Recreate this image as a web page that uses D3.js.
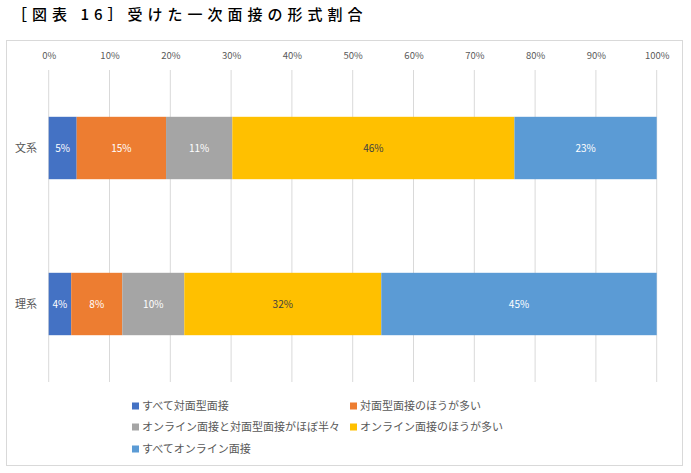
<!DOCTYPE html>
<html><head><meta charset="utf-8">
<script src="https://cdn.jsdelivr.net/npm/d3@7"></script>
<style>
html,body{margin:0;padding:0;background:#fff;}
svg text{font-family:"Noto Sans CJK JP","Noto Sans",sans-serif;}
</style></head>
<body><svg id="c" width="691" height="473"></svg>
<script>
const title = "［図表 16］受けた一次面接の形式割合";
const categories = ["文系", "理系"];
const seriesNames = ["すべて対面型面接", "対面型面接のほうが多い", "オンライン面接と対面型面接がほぼ半々", "オンライン面接のほうが多い", "すべてオンライン面接"];
const bunkeiValues = [4.6, 14.7, 10.9, 46.4, 23.4];
const rikeiValues = [3.7, 8.4, 10.2, 32.4, 45.3];
const tickValues = [0, 10, 20, 30, 40, 50, 60, 70, 80, 90, 100];
const colors = ["#4472C4", "#ED7D31", "#A5A5A5", "#FFC000", "#5B9BD5"];
const labelColors = ["#ffffff", "#ffffff", "#ffffff", "#404040", "#ffffff"];

const valuesByCat = {"文系": bunkeiValues, "理系": rikeiValues};
const svg = d3.select("#c");

// title
svg.append("text").attr("x", 12).attr("y", 20)
  .attr("font-size", 15).attr("font-weight", 500).attr("fill", "#000")
  .attr("letter-spacing", 5)
  .text(title);

// chart border
svg.append("rect").attr("x", 6.5).attr("y", 40.5).attr("width", 676).attr("height", 425)
  .attr("fill", "none").attr("stroke", "#d9d9d9").attr("stroke-width", 1);

const x = d3.scaleLinear().domain([0, 100]).range([48.7, 656.7]);
const y = d3.scaleBand().domain(categories).range([70, 382]).paddingInner(0.6).paddingOuter(0.3);

// gridlines
svg.append("g").selectAll("line").data(tickValues).join("line")
  .attr("x1", d => x(d)).attr("x2", d => x(d)).attr("y1", 70).attr("y2", 382)
  .attr("stroke", "#d9d9d9").attr("stroke-width", 1);

// top axis labels
const axis = d3.axisTop(x).tickValues(tickValues).tickFormat(d => d + "%").tickSize(0).tickPadding(0);
const ag = svg.append("g").attr("transform", "translate(0,59)").call(axis);
ag.select(".domain").remove();
ag.selectAll("text").attr("font-size", 9.5).attr("fill", "#595959")
  .attr("font-family", "'Noto Sans','Noto Sans CJK JP',sans-serif");

// category labels
svg.append("g").selectAll("text").data(categories).join("text")
  .attr("x", 37).attr("y", d => y(d) + y.bandwidth() / 2).attr("dy", "0.35em")
  .attr("text-anchor", "end").attr("font-size", 11).attr("fill", "#595959").text(d => d);

// stacked bars
const rows = categories.map(c => {
  let acc = 0;
  return valuesByCat[c].map((v, i) => { const s = acc; acc += v; return {cat: c, i, v, x0: s, x1: acc}; });
});
const segs = rows.flat();
svg.append("g").selectAll("rect").data(segs).join("rect")
  .attr("x", d => x(d.x0)).attr("width", d => x(d.x1) - x(d.x0))
  .attr("y", d => y(d.cat)).attr("height", y.bandwidth())
  .attr("fill", d => colors[d.i]);

svg.append("g").selectAll("text").data(segs).join("text")
  .attr("x", d => (x(d.x0) + x(d.x1)) / 2).attr("y", d => y(d.cat) + y.bandwidth() / 2)
  .attr("dy", "0.35em").attr("text-anchor", "middle").attr("font-size", 10)
  .attr("font-family", "'Noto Sans','Noto Sans CJK JP',sans-serif")
  .attr("fill", d => labelColors[d.i]).text(d => Math.round(d.v) + "%");

// legend
const legPos = [[132, 406], [350, 406], [132, 427], [350, 427], [132, 449]];
const lg = svg.append("g").selectAll("g").data(seriesNames).join("g")
  .attr("transform", (d, i) => `translate(${legPos[i][0]},${legPos[i][1]})`);
lg.append("rect").attr("x", 0).attr("y", -3.5).attr("width", 7).attr("height", 7)
  .attr("fill", (d, i) => colors[i]);
lg.append("text").attr("x", 10).attr("y", 0).attr("dy", "0.35em")
  .attr("font-size", 11).attr("fill", "#595959").text(d => d);
</script></body></html>
